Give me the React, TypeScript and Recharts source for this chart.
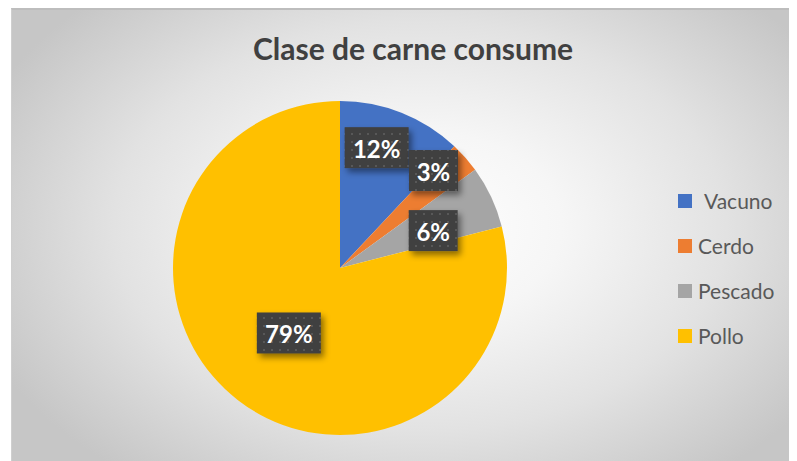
import React from 'react';
import { PieChart, Pie, Cell, Legend } from 'recharts';

// Consumo por tipo de carne (%)
const categories = ['Vacuno', 'Cerdo', 'Pescado', 'Pollo'];
const shares = [12, 3, 6, 79];
const colors = ['#4472C4', '#ED7D31', '#A5A5A5', '#FFC000'];

const data = categories.map((name, i) => ({ name, value: shares[i] }));

const RAD = Math.PI / 180;
const FONT = 'Lato, "Open Sans", sans-serif';

// how far out along the mid angle each label sits (fraction of the radius), plus a small nudge
const labelRadius = [0.775, 0.81, 0.61, 0.5];
const labelNudge = [
  [-11, 0],
  [-8, -8],
  [1, 6],
  [0, -1],
];

const renderLabel = (props: any) => {
  const { cx, cy, midAngle, outerRadius, index, value } = props;
  const r = outerRadius * labelRadius[index];
  const x = cx + r * Math.cos(-midAngle * RAD) + labelNudge[index][0];
  const y = cy + r * Math.sin(-midAngle * RAD) + labelNudge[index][1];
  const text = `${value}%`;
  const w = text.length > 2 ? 64 : 49;
  const h = 41;
  return (
    <g>
      <rect
        x={x - w / 2}
        y={y - h / 2}
        width={w}
        height={h}
        fill="url(#dots)"
        filter="url(#boxShadow)"
      />
      <text
        x={x}
        y={y + 1}
        textAnchor="middle"
        dominantBaseline="central"
        fill="#ffffff"
        fontFamily={FONT}
        fontWeight={700}
        fontSize={24}
      >
        {text}
      </text>
    </g>
  );
};

const renderLegend = () => (
  <div style={{ fontFamily: FONT, fontSize: 21, color: '#595959' }}>
    {data.map((d, i) => (
      <div key={d.name} style={{ display: 'flex', alignItems: 'center', height: 45 }}>
        <span style={{ width: 14, height: 14, background: colors[i], display: 'inline-block', flexShrink: 0 }} />
        <span style={{ marginLeft: i === 0 ? 12 : 6 }}>{d.name}</span>
      </div>
    ))}
  </div>
);

export default function App() {
  return (
    <div
      style={{
        position: 'relative',
        width: 786,
        height: 453,
        marginLeft: 3,
        boxSizing: 'border-box',
        borderTop: '2px solid #bdbdbd',
        borderLeft: '1px solid #cfcfcf',
        background:
          'radial-gradient(ellipse 60% 70% at 52% 48%, #ffffff 0%, #f6f6f6 30%, #e2e2e2 65%, #c6c6c6 100%)',
      }}
    >
      <div
        style={{
          position: 'absolute',
          left: 241,
          top: 20,
          fontFamily: FONT,
          fontWeight: 700,
          fontSize: 30,
          color: '#404040',
          whiteSpace: 'nowrap',
        }}
      >
        Clase de carne consume
      </div>
      <PieChart width={784} height={451} style={{ position: 'absolute', left: 0, top: 0 }}>
        <defs>
          <pattern id="dots" width="8" height="8" patternUnits="userSpaceOnUse">
            <rect width="8" height="8" fill="#3f3f3f" />
            <rect x="3" y="3" width="2" height="2" fill="#585858" />
          </pattern>
          <filter id="boxShadow" x="-20%" y="-20%" width="150%" height="160%">
            <feDropShadow dx="3" dy="4" stdDeviation="3" floodColor="#000000" floodOpacity="0.45" />
          </filter>
        </defs>
        <Pie
          data={data}
          dataKey="value"
          nameKey="name"
          cx={323}
          cy={253}
          outerRadius={167}
          startAngle={90}
          endAngle={-270}
          stroke="none"
          labelLine={false}
          label={renderLabel}
          isAnimationActive={false}
        >
          {data.map((d, i) => (
            <Cell key={d.name} fill={colors[i]} />
          ))}
        </Pie>
        <Legend
          layout="vertical"
          content={renderLegend}
          wrapperStyle={{ position: 'absolute', left: 666, top: 168, width: 120 }}
        />
      </PieChart>
    </div>
  );
}
